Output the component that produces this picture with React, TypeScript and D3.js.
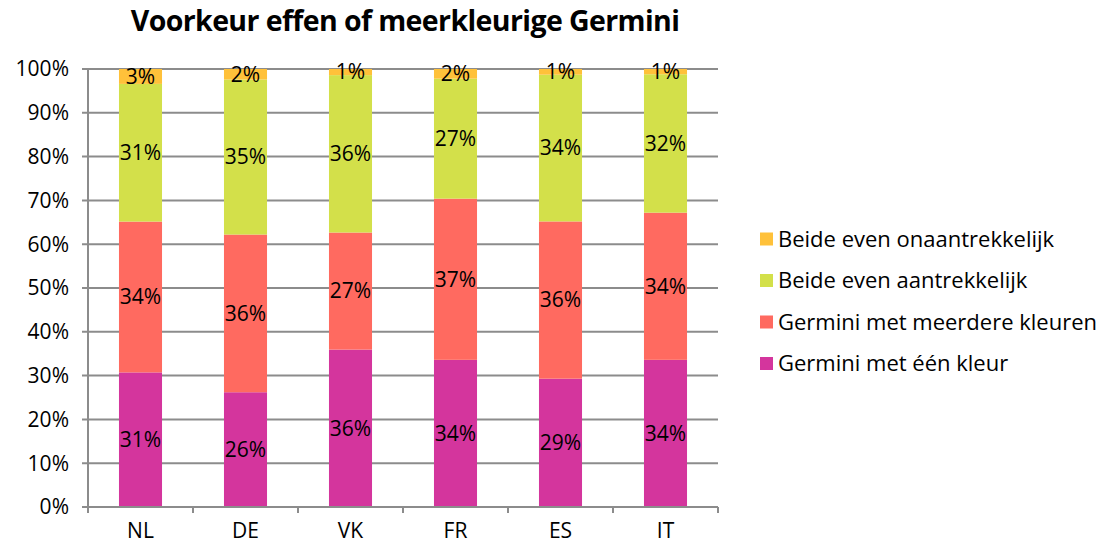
import React from "react";
import * as d3 from "d3";

const countries = ["NL", "DE", "VK", "FR", "ES", "IT"];
const seriesNames = [
  "Germini met één kleur",
  "Germini met meerdere kleuren",
  "Beide even aantrekkelijk",
  "Beide even onaantrekkelijk",
];
const eenKleur = [30.7, 26.2, 35.9, 33.6, 29.3, 33.6];
const meerdereKleuren = [34.4, 36.0, 26.7, 36.8, 35.9, 33.6];
const evenAantrekkelijk = [31.4, 35.4, 35.9, 27.4, 33.5, 31.6];
const evenOnaantrekkelijk = [3.4, 2.4, 1.4, 2.2, 1.3, 1.2];
const yTicks = [0, 10, 20, 30, 40, 50, 60, 70, 80, 90, 100];
const colors = ["#D4359D", "#FF6A60", "#D3E04A", "#FFC13A"];

const W = 1105;
const H = 544;
const margin = { left: 88, right: 387, top: 69, bottom: 37 };
const font = "'Open Sans', sans-serif";

export default function App() {
  const rows = countries.map((c, i) => ({
    c,
    v: [eenKleur[i], meerdereKleuren[i], evenAantrekkelijk[i], evenOnaantrekkelijk[i]],
  }));
  const stack = d3
    .stack<any>()
    .keys([0, 1, 2, 3] as any)
    .value((d, k) => d.v[k as any])
    .offset(d3.stackOffsetExpand);
  const layers = stack(rows);

  const x = d3
    .scaleBand()
    .domain(countries)
    .range([margin.left, W - margin.right])
    .paddingInner(0.59)
    .paddingOuter(0.295);
  const y = d3
    .scaleLinear()
    .domain([0, 1])
    .range([H - margin.bottom, margin.top]);

  const step = x.step();
  const bounds = d3.range(countries.length + 1).map((i) => margin.left + i * step);

  return (
    <svg width={W} height={H} style={{ position: "absolute", left: 0, top: 0, background: "#fff" }}>
      <text x={405} y={31} textAnchor="middle" fontFamily={font} fontWeight="bold" fontSize={28.5} fill="#000" letterSpacing={-0.6}>
        Voorkeur effen of meerkleurige Germini
      </text>
      {yTicks.map((t) => (
        <g key={t}>
          <line x1={margin.left - 6} x2={W - margin.right} y1={y(t / 100)} y2={y(t / 100)} stroke="#8C8C8C" strokeWidth={2} />
          <text x={69} y={y(t / 100)} dy="0.35em" textAnchor="end" fontFamily={font} fontSize={21} fill="#000">
            {t}%
          </text>
        </g>
      ))}
      {layers.map((layer, k) =>
        layer.map((d, i) => (
          <rect
            key={`${k}-${i}`}
            x={x(countries[i])}
            width={x.bandwidth()}
            y={y(d[1])}
            height={y(d[0]) - y(d[1])}
            fill={colors[k]}
          />
        ))
      )}
      {layers.map((layer, k) =>
        layer.map((d, i) => (
          <text
            key={`l${k}-${i}`}
            x={(x(countries[i]) as number) + x.bandwidth() / 2}
            y={(y(d[0]) + y(d[1])) / 2}
            dy="0.35em"
            textAnchor="middle"
            fontFamily={font}
            fontSize={21}
            fill="#000"
          >
            {Math.round(rows[i].v[k])}%
          </text>
        ))
      )}
      <line x1={margin.left} x2={margin.left} y1={margin.top} y2={H - margin.bottom} stroke="#8C8C8C" strokeWidth={2} />
      <line x1={margin.left - 6} x2={W - margin.right} y1={y(0)} y2={y(0)} stroke="#8C8C8C" strokeWidth={2} />
      {bounds.map((b, i) => (
        <line key={i} x1={b} x2={b} y1={y(0)} y2={y(0) + 6} stroke="#8C8C8C" strokeWidth={2} />
      ))}
      {countries.map((c) => (
        <text key={c} x={(x(c) as number) + x.bandwidth() / 2} y={538} textAnchor="middle" fontFamily={font} fontSize={21} fill="#000">
          {c}
        </text>
      ))}
      {seriesNames
        .map((n, k) => ({ n, k }))
        .reverse()
        .map(({ n, k }, j) => (
          <g key={n} transform={`translate(760, ${239 + j * 41.5})`}>
            <rect x={0} y={-6.5} width={13} height={13} fill={colors[k]} />
            <text x={18} y={0} dy="0.35em" fontFamily={font} fontSize={22} fill="#000">
              {n}
            </text>
          </g>
        ))}
    </svg>
  );
}
